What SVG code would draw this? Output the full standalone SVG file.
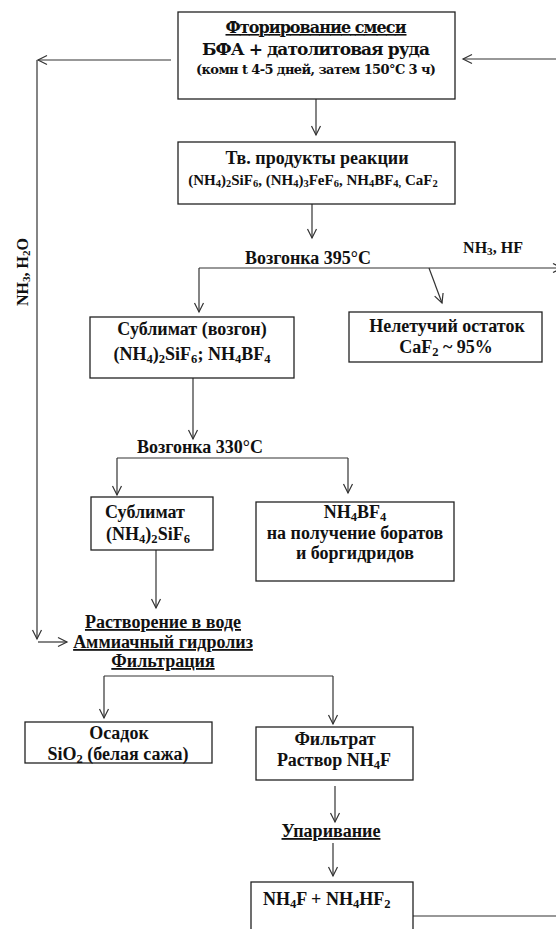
<svg xmlns="http://www.w3.org/2000/svg" width="556" height="929" viewBox="0 0 556 929">
<style>
.box{fill:#fff;stroke:#222;stroke-width:1.3}
.ln{fill:none;stroke:#333;stroke-width:1.2}
.t{font-family:"Liberation Serif","Times New Roman",serif;font-weight:bold;fill:#111;text-anchor:middle}
.c{font-family:"DejaVu Serif","Liberation Serif",serif;font-weight:bold;fill:#111;text-anchor:middle}
.s{font-size:70%;baseline-shift:-22%}
.u{text-decoration:underline}
</style>
<defs>
<marker id="a" markerUnits="userSpaceOnUse" markerWidth="12" markerHeight="12" refX="10" refY="5" orient="auto" overflow="visible">
<path d="M1,0.5 L10,5 L1,9.5" fill="none" stroke="#333" stroke-width="1.2"/>
</marker>
</defs>
<rect width="556" height="929" fill="#fff"/>
<g id="connectors">
<line class="ln" x1="171" y1="60" x2="38" y2="60" marker-end="url(#a)"/>
<line class="ln" x1="37" y1="60" x2="37" y2="639" marker-end="url(#a)"/>
<line class="ln" x1="38" y1="642" x2="67" y2="642" marker-end="url(#a)"/>
<line class="ln" x1="556" y1="59" x2="463" y2="59" marker-end="url(#a)"/>
<line class="ln" x1="316" y1="99" x2="316" y2="135" marker-end="url(#a)"/>
<line class="ln" x1="312" y1="204" x2="312" y2="238" marker-end="url(#a)"/>
<line class="ln" x1="199" y1="268" x2="562" y2="268" marker-end="url(#a)"/>
<line class="ln" x1="199" y1="268" x2="199" y2="312" marker-end="url(#a)"/>
<line class="ln" x1="429" y1="268" x2="442" y2="303" marker-end="url(#a)"/>
<line class="ln" x1="193" y1="378" x2="193" y2="439" marker-end="url(#a)"/>
<line class="ln" x1="117" y1="458" x2="348" y2="458"/>
<line class="ln" x1="117" y1="458" x2="117" y2="495" marker-end="url(#a)"/>
<line class="ln" x1="348" y1="458" x2="348" y2="493" marker-end="url(#a)"/>
<line class="ln" x1="156" y1="550" x2="156" y2="608" marker-end="url(#a)"/>
<line class="ln" x1="104" y1="676" x2="333" y2="676"/>
<line class="ln" x1="104" y1="676" x2="104" y2="718" marker-end="url(#a)"/>
<line class="ln" x1="333" y1="676" x2="333" y2="724" marker-end="url(#a)"/>
<line class="ln" x1="335" y1="786" x2="335" y2="822" marker-end="url(#a)"/>
<line class="ln" x1="333" y1="843" x2="333" y2="876" marker-end="url(#a)"/>
<line class="ln" x1="413" y1="916" x2="556" y2="916"/>
</g>
<g id="n1">
<rect class="box" x="178" y="12" width="277" height="87"/>
<text class="c u" x="316" y="33" font-size="16" textLength="181">Фторирование смеси</text>
<text class="c" x="316" y="55" font-size="17" textLength="228">БФА + датолитовая руда</text>
<text class="c" x="316" y="74" font-size="13" textLength="240">(комн t 4-5 дней, затем 150°C 3 ч)</text>
</g>
<g id="n2">
<rect class="box" x="178" y="142" width="277" height="62"/>
<text class="t" x="317" y="164" font-size="18">Тв. продукты реакции</text>
<text class="t" x="313" y="185" font-size="15">(NH<tspan class="s">4</tspan>)<tspan class="s">2</tspan>SiF<tspan class="s">6</tspan>, (NH<tspan class="s">4</tspan>)<tspan class="s">3</tspan>FeF<tspan class="s">6</tspan>, NH<tspan class="s">4</tspan>BF<tspan class="s">4,</tspan> CaF<tspan class="s">2</tspan></text>
</g>
<g id="l395">
<text class="t" x="308" y="264" font-size="18">Возгонка 395°C</text>
<text class="t" x="493" y="253" font-size="16">NH<tspan class="s">3</tspan>, HF</text>
</g>
<g id="nh3h2o">
<text class="t" transform="translate(28,272) rotate(-90)" font-size="16">NH<tspan class="s">3</tspan>, H<tspan class="s">2</tspan>O</text>
</g>
<g id="n3">
<rect class="box" x="90" y="317" width="204" height="61"/>
<text class="t" x="192" y="335" font-size="18">Сублимат (возгон)</text>
<text class="t" x="192" y="360" font-size="18">(NH<tspan class="s">4</tspan>)<tspan class="s">2</tspan>SiF<tspan class="s">6</tspan>; NH<tspan class="s">4</tspan>BF<tspan class="s">4</tspan></text>
</g>
<g id="n4">
<rect class="box" x="349" y="312" width="193" height="50"/>
<text class="t" x="447" y="332" font-size="18">Нелетучий остаток</text>
<text class="t" x="446" y="353" font-size="18">CaF<tspan class="s">2</tspan> ~ 95%</text>
</g>
<g id="l330">
<text class="t" x="200" y="453" font-size="18">Возгонка 330°C</text>
</g>
<g id="n5">
<rect class="box" x="91" y="497" width="122" height="53"/>
<text class="t" x="145" y="518" font-size="18">Сублимат</text>
<text class="t" x="148" y="540" font-size="18">(NH<tspan class="s">4</tspan>)<tspan class="s">2</tspan>SiF<tspan class="s">6</tspan></text>
</g>
<g id="n6">
<rect class="box" x="256" y="502" width="198" height="79"/>
<text class="t" x="355" y="518" font-size="18">NH<tspan class="s">4</tspan>BF<tspan class="s">4</tspan></text>
<text class="t" x="355" y="539" font-size="18">на получение боратов</text>
<text class="t" x="355" y="559" font-size="18">и боргидридов</text>
</g>
<g id="n7">
<text class="t u" x="163" y="628" font-size="18">Растворение в воде</text>
<text class="t u" x="163" y="648" font-size="18">Аммиачный гидролиз</text>
<text class="t u" x="163" y="667" font-size="18">Фильтрация</text>
</g>
<g id="n8">
<rect class="box" x="25" y="722" width="187" height="41"/>
<text class="t" x="119" y="739" font-size="18">Осадок</text>
<text class="t" x="118" y="760" font-size="18">SiO<tspan class="s">2</tspan> (белая сажа)</text>
</g>
<g id="n9">
<rect class="box" x="256" y="727" width="157" height="53"/>
<text class="t" x="335" y="745" font-size="18">Фильтрат</text>
<text class="t" x="334" y="766" font-size="18">Раствор NH<tspan class="s">4</tspan>F</text>
</g>
<g id="n10">
<text class="t u" x="331" y="837" font-size="18">Упаривание</text>
</g>
<g id="n11">
<rect class="box" x="251" y="882" width="162" height="60"/>
<text class="t" x="263" y="905" font-size="18" style="text-anchor:start">NH<tspan class="s">4</tspan>F + NH<tspan class="s">4</tspan>HF<tspan class="s">2</tspan></text>
</g>
</svg>
